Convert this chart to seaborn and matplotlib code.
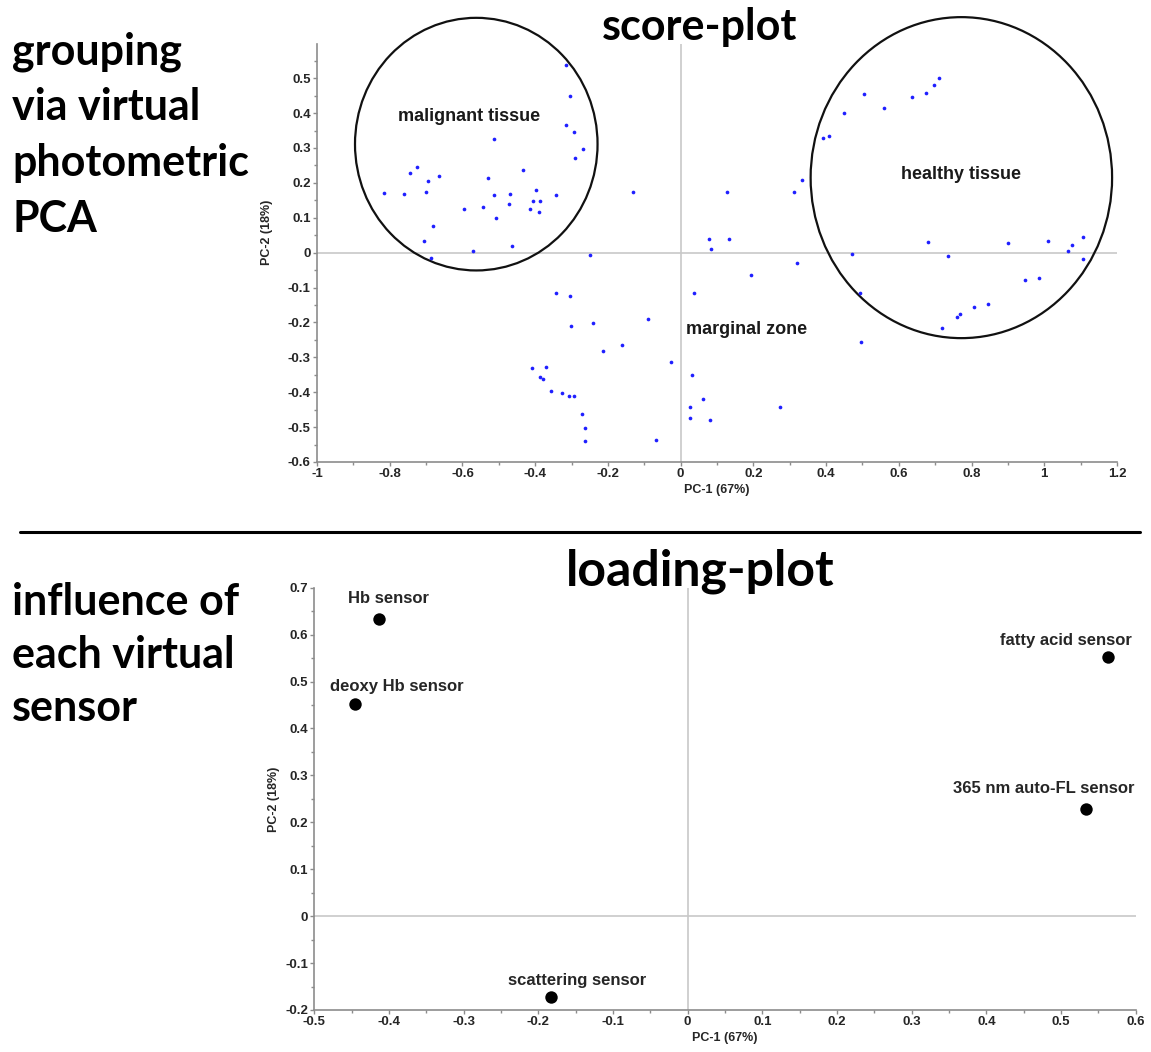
import matplotlib
matplotlib.use("Agg")
import matplotlib.pyplot as plt
from matplotlib.lines import Line2D
from matplotlib.patches import Ellipse
from matplotlib.ticker import MultipleLocator
import pandas as pd
import seaborn as sns

# Score-plot samples (PC-1, PC-2)
score_pc1 = [-0.316, -0.304, -0.316, -0.292, -0.269, -0.290, -0.514, -0.433, -0.531, -0.725,
             -0.745, -0.695, -0.665, -0.816, -0.760, -0.699, -0.512, -0.470, -0.399, -0.343,
             -0.406, -0.388, -0.473, -0.596, -0.543, -0.414, -0.390, -0.508, -0.680, -0.706,
             -0.570, -0.464, -0.686, -0.249, -0.132, 0.127, 0.312, 0.335, 0.079, 0.132,
             0.084, 0.321, 0.193, 0.038, -0.344, -0.304, -0.301, -0.240, -0.090, -0.161,
             -0.213, -0.027, -0.409, -0.369, -0.386, -0.378, 0.030, -0.356, -0.327, -0.307,
             -0.293, 0.061, 0.025, 0.272, 0.026, 0.081, -0.272, -0.264, -0.264, -0.067,
             0.710, 0.697, 0.674, 0.637, 0.503, 0.560, 0.449, 0.391, 0.407, 0.679,
             0.899, 1.010, 1.106, 1.075, 1.065, 1.107, 0.736, 0.471, 0.946, 0.985,
             0.493, 0.846, 0.807, 0.769, 0.761, 0.719, 0.497]
score_pc2 = [0.539, 0.448, 0.367, 0.345, 0.298, 0.270, 0.327, 0.238, 0.215, 0.246,
             0.229, 0.205, 0.219, 0.172, 0.168, 0.173, 0.165, 0.168, 0.180, 0.166,
             0.149, 0.149, 0.140, 0.125, 0.131, 0.125, 0.117, 0.099, 0.075, 0.033,
             0.004, 0.019, -0.014, -0.007, 0.173, 0.173, 0.173, 0.207, 0.040, 0.039,
             0.011, -0.029, -0.063, -0.115, -0.115, -0.124, -0.210, -0.201, -0.191, -0.266,
             -0.281, -0.314, -0.331, -0.327, -0.357, -0.362, -0.352, -0.396, -0.401, -0.411,
             -0.412, -0.420, -0.443, -0.442, -0.473, -0.480, -0.461, -0.503, -0.540, -0.537,
             0.500, 0.481, 0.458, 0.446, 0.456, 0.415, 0.401, 0.330, 0.334, 0.031,
             0.028, 0.033, 0.044, 0.021, 0.004, -0.018, -0.011, -0.003, -0.077, -0.072,
             -0.115, -0.147, -0.155, -0.175, -0.184, -0.215, -0.256]

# Loading-plot sensors
sensor_names = ["Hb sensor", "deoxy Hb sensor", "fatty acid sensor",
                "365 nm auto-FL sensor", "scattering sensor"]
load_pc1 = [-0.413, -0.445, 0.563, 0.533, -0.183]
load_pc2 = [0.634, 0.452, 0.552, 0.228, -0.173]

score_df = pd.DataFrame({"PC1": score_pc1, "PC2": score_pc2})
load_df = pd.DataFrame({"PC1": load_pc1, "PC2": load_pc2, "sensor": sensor_names})

sns.set_style("white")
plt.rcParams['font.family'] = ['Liberation Sans', 'DejaVu Sans']

fig = plt.figure(figsize=(11.51, 10.52), dpi=100)
W, H = 1151, 1052

big_font = dict(family=['Lato', 'DejaVu Sans'], fontweight='bold', fontsize=31, color='black')
tick_font = dict(fontsize=9, fontweight='bold')
spine_gray = '#8c8c8c'
ref_gray = '#c8c8c8'


def style_axes(ax, xmajor, xminor, ymajor, yminor):
    for side in ['top', 'right']:
        ax.spines[side].set_visible(False)
    for side in ['left', 'bottom']:
        ax.spines[side].set_color(spine_gray)
        ax.spines[side].set_linewidth(1.2)
    ax.xaxis.set_major_locator(MultipleLocator(xmajor))
    ax.xaxis.set_minor_locator(MultipleLocator(xminor))
    ax.yaxis.set_major_locator(MultipleLocator(ymajor))
    ax.yaxis.set_minor_locator(MultipleLocator(yminor))
    ax.tick_params(which='both', direction='out', color=spine_gray, width=1,
                   bottom=True, left=True, pad=1.5)
    ax.tick_params(which='major', length=3)
    ax.tick_params(which='minor', length=2)
    ax.axhline(0, color=ref_gray, lw=1.2, zorder=0)
    ax.axvline(0, color=ref_gray, lw=1.2, zorder=0)
    ax.set_xlabel("PC-1 (67%)", **tick_font)
    ax.set_ylabel("PC-2 (18%)", **tick_font)


def fmt(v, pos):
    s = f"{v:.1f}"
    if s in ("0.0", "-0.0"):
        return "0"
    if s.endswith(".0"):
        s = s[:-2]
    return s


def bold_ticks(ax):
    ax.xaxis.set_major_formatter(fmt)
    ax.yaxis.set_major_formatter(fmt)
    for lab in ax.get_xticklabels() + ax.get_yticklabels():
        lab.set_fontweight('bold')
        lab.set_fontsize(9.5)


# ---- score plot ----
ax1 = fig.add_axes([317 / W, 1 - 462 / H, 800 / W, 418 / H])
sns.scatterplot(data=score_df, x="PC1", y="PC2", ax=ax1, color="#1f1fff",
                s=7, linewidth=0, zorder=3)
ax1.set_xlim(-1, 1.2)
ax1.set_ylim(-0.6, 0.598)
style_axes(ax1, 0.2, 0.1, 0.1, 0.05)
ax1.set_yticks([round(-0.6 + 0.1 * i, 1) for i in range(12)])
bold_ticks(ax1)
ax1.xaxis.labelpad = 3
ax1.yaxis.set_label_coords(-0.055, 0.55)

ax1.add_patch(Ellipse((-0.562, 0.311), 0.667, 0.724, fill=False, lw=1.6,
                      ec='#111111', clip_on=False, zorder=2))
ax1.add_patch(Ellipse((0.772, 0.215), 0.829, 0.920, fill=False, lw=1.6,
                      ec='#111111', clip_on=False, zorder=2))
ann_font = dict(fontsize=13, fontweight='bold', color='#1a1a1a', ha='center', va='center')
ax1.text(-0.582, 0.390, "malignant tissue", **ann_font)
ax1.text(0.772, 0.223, "healthy tissue", **ann_font)
ax1.text(0.180, -0.219, "marginal zone", **ann_font)

# ---- loading plot ----
ax2 = fig.add_axes([314.3 / W, 1 - 1010 / H, 821.4 / W, 422.3 / H])
sns.scatterplot(data=load_df, x="PC1", y="PC2", ax=ax2, color="black",
                s=80, linewidth=0, zorder=3)
ax2.set_xlim(-0.5, 0.6)
ax2.set_ylim(-0.2, 0.7)
style_axes(ax2, 0.1, 0.05, 0.1, 0.05)
bold_ticks(ax2)
ax2.xaxis.labelpad = 3

label_offsets = [(6.5, 14.4), (30, 13), (-30, 12.2), (-30, 15), (19, 12.2)]
for name, x, y, off in zip(sensor_names, load_pc1, load_pc2, label_offsets):
    ax2.annotate(name, (x, y), xytext=off, textcoords='offset points',
                 ha='center', va='center', fontsize=12, fontweight='bold')

# ---- titles and side texts ----
fig.text(700 / W, 1 - 40 / H, "score-plot", ha='center', va='baseline', **big_font)
title2 = dict(big_font, fontsize=36)
fig.text(700 / W, 1 - 586 / H, "loading-plot", ha='center', va='baseline', **title2)

for i, line in enumerate(["grouping", "via virtual", "photometric", "PCA"]):
    fig.text(12 / W, 1 - (64 + 56 * i) / H, line, ha='left', va='baseline', **big_font)
for i, line in enumerate(["influence of", "each virtual", "sensor"]):
    fig.text(12 / W, 1 - (615 + 53 * i) / H, line, ha='left', va='baseline', **big_font)

fig.add_artist(Line2D([20 / W, 1140 / W], [1 - 532 / H, 1 - 532 / H],
                      color='black', lw=2.2))

fig.savefig("out.png", dpi=100)
